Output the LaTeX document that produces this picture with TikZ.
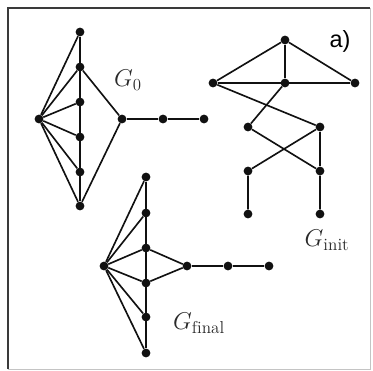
\documentclass[tikz,border=0pt]{standalone}
\usepackage{fontspec}
\usepackage{tikz}
\usetikzlibrary{positioning}
\newfontfamily\labelfont{Liberation Sans}
\definecolor{ink}{HTML}{111111}
\definecolor{framedark}{HTML}{3A3A3A}
\definecolor{framelight}{HTML}{C4C4C4}
\tikzset{
  vtx/.style={circle,fill=ink,draw=none,inner sep=0pt,minimum size=7.5pt},
  edge/.style={draw=ink,line width=1.4pt},
  glabel/.style={font=\fontsize{21}{23}\selectfont,text=ink!90,inner sep=0pt},
  tag/.style={font=\labelfont\fontsize{20}{22}\selectfont,inner sep=0pt}
}
\begin{document}
\begin{tikzpicture}[x=0.03cm,y=-0.03cm]
    \path[use as bounding box] (0,0) rectangle (373,370);
    % frame
    \draw[framelight,line width=0.8pt] (370,8) -- (370,369) -- (8,369);
    \draw[framedark,line width=1.5pt] (8,369) -- (8,8) -- (370,8);
    % G_0
    \node[vtx] (ah) at (39,119) {};
    \foreach \i/\y in {1/32,2/67,3/102,4/137,5/172,6/206}
      \node[vtx] (a\i) at (80,\y) {};
    \node[vtx] (ar) at (122,119) {};
    \node[vtx] (as) at (163,119) {};
    \node[vtx] (at) at (204,119) {};
    \foreach \i in {1,...,6}
      \draw[edge] (ah) -- (a\i);
    \draw[edge] (a1) -- (a6);
    \draw[edge] (a2) -- (ar) -- (a6);
    \draw[edge] (ar) -- (as) -- (at);
    \node[glabel] (g0) at (128,80) {$G_0$};
    % G_init
    \node[vtx] (b1) at (285,40) {};
    \node[vtx] (bl) at (213,83) {};
    \node[vtx] (bm) at (285,83) {};
    \node[vtx] (br) at (355,83) {};
    \node[vtx] (c1) at (248,127) {};
    \node[vtx] (c2) at (320,127) {};
    \node[vtx] (d1) at (248,171) {};
    \node[vtx] (d2) at (320,171) {};
    \node[vtx] (e1) at (248,214) {};
    \node[vtx] (e2) at (320,214) {};
    \draw[edge] (bl) -- (b1) -- (br);
    \draw[edge] (b1) -- (bm);
    \draw[edge] (bl) -- (br);
    \draw[edge] (bl) -- (c2) -- (d1) -- (e1);
    \draw[edge] (bm) -- (c1) -- (d2) -- (e2);
    \draw[edge] (c2) -- (d2);
    \node[glabel] (gi) at (327,240) {$G_{\mathrm{init}}$};
    % G_final
    \node[vtx] (fh) at (104,266) {};
    \foreach \i/\y in {1/177,2/213,3/248,4/283,5/317,6/353}
      \node[vtx] (f\i) at (146,\y) {};
    \node[vtx] (fr) at (187,266) {};
    \node[vtx] (fs) at (228,266) {};
    \node[vtx] (ft) at (269,266) {};
    \foreach \i in {1,...,6}
      \draw[edge] (fh) -- (f\i);
    \draw[edge] (f1) -- (f6);
    \draw[edge] (f3) -- (fr) -- (f4);
    \draw[edge] (fr) -- (fs) -- (ft);
    \node[glabel] (gf) at (199,323) {$G_{\mathrm{final}}$};
    \node[tag] (lbl) at (340,41) {a)};
\end{tikzpicture}
\end{document}
